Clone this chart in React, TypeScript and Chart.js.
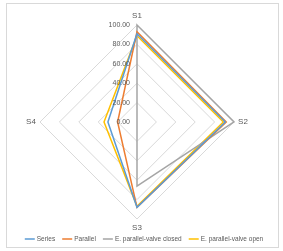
import React, { useEffect, useRef } from "react";
import { Chart, registerables } from "chart.js";

Chart.register(...registerables);

const categories = ["S1", "S2", "S3", "S4"];
const seriesNames = ["Series", "Parallel", "E. parallel-valve closed", "E. parallel-valve open"];
const seriesValues = [91, 91, 88, 30];
const parallelValues = [93, 92, 88, 20];
const closedValues = [100, 100, 66, 0];
const openValues = [89, 89, 87, 34];
const seriesColors = ["#5B9BD5", "#ED7D31", "#A5A5A5", "#FFC000"];
const tickValues = [0, 20, 40, 60, 80, 100];

const FONT = "'Liberation Sans', Arial, sans-serif";
const TEXT = "#595959";

const decorPlugin = {
  id: "decor",
  beforeDraw(chart: any) {
    const ctx = chart.ctx;
    ctx.save();
    ctx.fillStyle = "#ffffff";
    ctx.fillRect(0, 0, chart.width, chart.height);
    ctx.strokeStyle = "#D9D9D9";
    ctx.lineWidth = 1;
    ctx.strokeRect(6.5, 3.5, 272, 244);
    ctx.restore();
  },
  afterDraw(chart: any) {
    const ctx = chart.ctx;
    const scale = chart.scales.r;
    ctx.save();
    ctx.fillStyle = TEXT;
    ctx.font = `7px ${FONT}`;
    // tick labels
    ctx.textAlign = "right";
    ctx.textBaseline = "middle";
    tickValues.forEach((v) => {
      const d = scale.getDistanceFromCenterForValue(v);
      ctx.fillText(v.toFixed(2), scale.xCenter - 7, scale.yCenter - d);
    });
    // point labels
    ctx.font = `8px ${FONT}`;
    ctx.textAlign = "center";
    categories.forEach((c, i) => {
      const p = scale.getPointPosition(i, scale.drawingArea + 9);
      ctx.fillText(c, p.x, p.y);
    });
    // legend
    ctx.font = `6.5px ${FONT}`;
    ctx.textAlign = "left";
    const lineW = 10, gapText = 2, gapItem = 7;
    const widths = chart.data.datasets.map(
      (ds: any) => lineW + gapText + ctx.measureText(ds.label).width
    );
    const total = widths.reduce((a: number, b: number) => a + b, 0) + gapItem * (widths.length - 1);
    let x = 144 - total / 2;
    const y = 239;
    chart.data.datasets.forEach((ds: any, i: number) => {
      ctx.strokeStyle = ds.borderColor;
      ctx.lineWidth = 1.5;
      ctx.beginPath();
      ctx.moveTo(x, y);
      ctx.lineTo(x + lineW, y);
      ctx.stroke();
      ctx.fillText(ds.label, x + lineW + gapText, y);
      x += widths[i] + gapItem;
    });
    ctx.restore();
  },
};

export default function App() {
  const ref = useRef<HTMLCanvasElement | null>(null);
  useEffect(() => {
    if (!ref.current) return;
    const allValues = [seriesValues, parallelValues, closedValues, openValues];
    const chart = new Chart(ref.current, {
      type: "radar",
      data: {
        labels: categories,
        datasets: allValues.map((vals, i) => ({
          label: seriesNames[i],
          data: vals,
          borderColor: seriesColors[i],
          backgroundColor: seriesColors[i],
          borderWidth: 1.5,
          fill: false,
          pointRadius: 0,
          pointHoverRadius: 0,
          tension: 0,
        })),
      },
      options: {
        responsive: false,
        animation: false,
        layout: { padding: { left: 40, right: 49, top: 25, bottom: 32 } },
        plugins: {
          legend: { display: false },
          tooltip: { enabled: false },
        },
        scales: {
          r: {
            min: 0,
            max: 100,
            ticks: { stepSize: 20, display: false },
            grid: { color: "#D9D9D9", lineWidth: 1, circular: false },
            angleLines: { display: false },
            pointLabels: { display: false },
          },
        },
      },
      plugins: [decorPlugin],
    });
    return () => chart.destroy();
  }, []);
  return (
    <div style={{ position: "fixed", left: 0, top: 0, width: 283, height: 251, background: "#fff" }}>
      <canvas ref={ref} width={283} height={251} style={{ display: "block" }} />
    </div>
  );
}
